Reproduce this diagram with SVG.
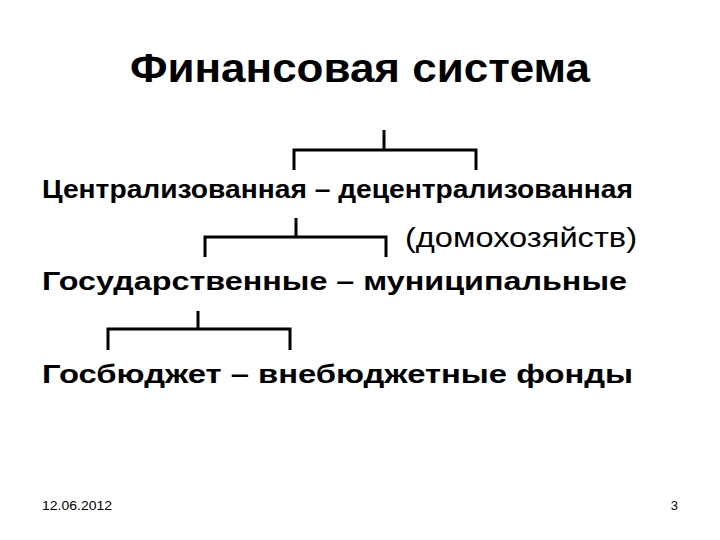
<svg xmlns="http://www.w3.org/2000/svg" width="720" height="540" viewBox="0 0 720 540">
<style>
text{font-family:"Liberation Sans",Arial,sans-serif;fill:#000}
.b{font-weight:bold;font-size:26px}
#connectors path{fill:none;stroke:#000;stroke-width:3}
</style>
<rect width="720" height="540" fill="#fff"/>
<g id="title"><text x="130" y="82" font-size="40" font-weight="bold" textLength="460" lengthAdjust="spacingAndGlyphs">Финансовая система</text></g>
<g id="connectors">
<path d="M384 130V150M294 170V150H476V170"/>
<path d="M296 218V237M205 257V237H386V257"/>
<path d="M198 311V329M108 350V329H290V350"/>
</g>
<g id="n1"><text class="b" x="42" y="198" textLength="591" lengthAdjust="spacingAndGlyphs">Централизованная – децентрализованная</text></g>
<g id="n1b"><text x="405" y="247" font-size="28" textLength="232" lengthAdjust="spacingAndGlyphs">(домохозяйств)</text></g>
<g id="n2"><text class="b" x="42" y="290" textLength="585" lengthAdjust="spacingAndGlyphs">Государственные – муниципальные</text></g>
<g id="n3"><text class="b" x="42" y="383" textLength="591" lengthAdjust="spacingAndGlyphs">Госбюджет  – внебюджетные фонды</text></g>
<g id="footer"><text x="42" y="510" font-size="13" textLength="70" lengthAdjust="spacingAndGlyphs">12.06.2012</text><text x="678" y="510" font-size="13" text-anchor="end">3</text></g>
</svg>
